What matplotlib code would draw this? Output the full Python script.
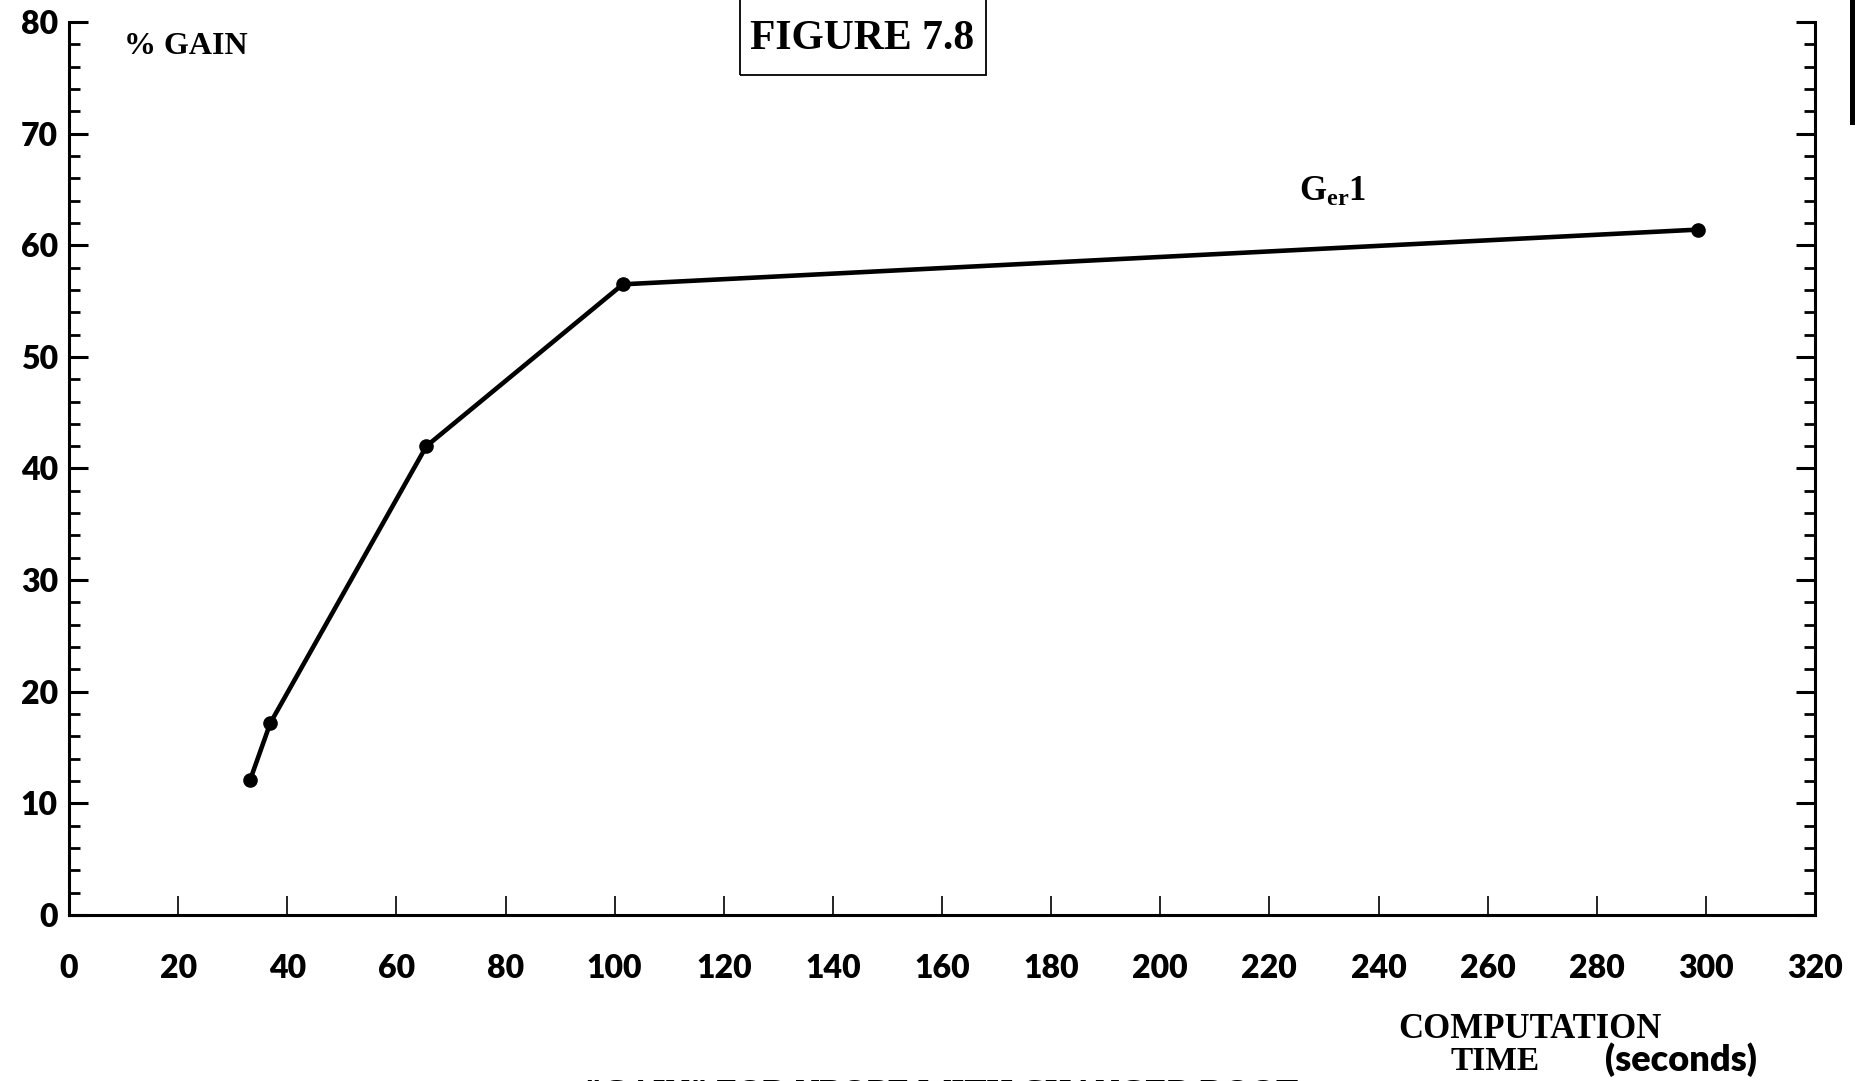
import matplotlib
matplotlib.use('Agg')
import matplotlib.pyplot as plt
from matplotlib.patches import Rectangle
from matplotlib.ticker import MultipleLocator

# values
time_s = [33.2, 36.9, 65.5, 101.5, 298.5]
gain_pct = [12.1, 17.2, 42.0, 56.5, 61.4]
x_ticks = list(range(0, 321, 20))
y_ticks = list(range(0, 81, 10))

SERIF = 'Liberation Serif'
SANS = 'Lato'

plt.rcParams['mathtext.fontset'] = 'custom'
plt.rcParams['mathtext.bf'] = 'Liberation Serif:bold'
plt.rcParams['mathtext.rm'] = 'Liberation Serif'

W, H = 1856, 1081
fig = plt.figure(figsize=(W / 100, H / 100), dpi=100)
ax = fig.add_axes([69 / W, 1 - 915 / H, (1815 - 69) / W, (915 - 22) / H])

ax.plot(time_s, gain_pct, '-o', color='black', lw=3.3, ms=9.5)

ax.set_xlim(0, 320)
ax.set_ylim(0, 80)
ax.spines['top'].set_visible(False)
for s in ['left', 'bottom', 'right']:
    ax.spines[s].set_linewidth(2.2)

ax.set_xticks(x_ticks)
ax.set_yticks(y_ticks)
ax.yaxis.set_minor_locator(MultipleLocator(2))
ax.tick_params(axis='x', direction='in', length=14, width=1.2, pad=28, labelsize=23)
ax.tick_params(axis='y', which='major', direction='in', length=14, width=2.2,
               pad=8, labelsize=23, right=True)
ax.tick_params(axis='y', which='minor', direction='in', length=8, width=2, right=True)
for lab in ax.get_xticklabels() + ax.get_yticklabels():
    lab.set_fontfamily(SANS)
    lab.set_fontweight('heavy')

ax.text(10.1, 77.8, '% GAIN', family=SERIF, weight='bold', fontsize=23, va='center')
ax.text(225.5, 64.9, r'$\mathbf{G_{er}1}$', fontsize=25, va='center')

# boxed figure number at the top
fig.patches.append(Rectangle((740 / W, 1 - 75 / H), 246 / W, 0.1, transform=fig.transFigure,
                             fill=False, edgecolor='black', lw=1.3))
fig.text(862 / W, 1 - 39 / H, 'FIGURE 7.8', family=SERIF, weight='bold', fontsize=30,
         ha='center', va='center')

fig.text(1530 / W, 1 - 1030 / H, 'COMPUTATION', family=SERIF, weight='bold', fontsize=25,
         ha='center', va='center')
fig.text(1495 / W, 1 - 1062 / H, 'TIME', family=SERIF, weight='bold', fontsize=24,
         ha='center', va='center')
fig.text(1681 / W, 1 - 1060 / H, '(seconds)', family=SANS, weight='heavy', fontsize=26,
         ha='center', va='center')

# caption, cut off by the page edge
fig.text(941 / W, 3 / H, '"GAIN" FOR NBOPE WITH CHANGED ROOT', family=SERIF, weight='bold',
         fontsize=24, ha='center', va='top')

# scan edge artifact
fig.patches.append(Rectangle((1850 / W, 1 - 125 / H), 6 / W, 125 / H, transform=fig.transFigure,
                             color='black', lw=0))

fig.savefig('out.png', dpi=100)
